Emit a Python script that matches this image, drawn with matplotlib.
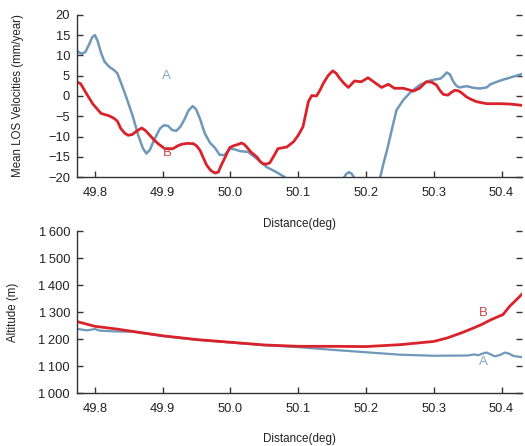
import matplotlib
matplotlib.use("Agg")
import matplotlib.pyplot as plt

plt.rcParams['font.family'] = ['Liberation Sans', 'DejaVu Sans']

# --- Mean LOS velocities (mm/year) along the profile ---
vel_a_dist = [49.773, 49.777, 49.781, 49.786, 49.791, 49.796, 49.800, 49.804, 49.809,
              49.814, 49.821, 49.828, 49.833, 49.839, 49.846, 49.856, 49.864, 49.871,
              49.876, 49.881, 49.888, 49.896, 49.902, 49.908, 49.914, 49.920, 49.926,
              49.932, 49.938, 49.944, 49.949, 49.955, 49.962, 49.970, 49.977, 49.984,
              49.991, 49.999, 50.007, 50.014, 50.026, 50.039, 50.053, 50.068,
              50.080, 50.095, 50.120, 50.150, 50.166, 50.171, 50.175, 50.179, 50.184,
              50.200, 50.221, 50.226, 50.231, 50.238, 50.245, 50.255, 50.265, 50.279,
              50.292, 50.303, 50.310, 50.315, 50.319, 50.324, 50.329, 50.334, 50.339,
              50.344, 50.349, 50.359, 50.368, 50.378, 50.384, 50.390, 50.400, 50.412,
              50.430]
vel_a = [11.2, 10.7, 10.4, 10.9, 12.6, 14.5, 15.0, 13.5, 10.6,
         8.5, 7.2, 6.4, 5.6, 3.0, -0.2, -5.1, -9.8, -13.0,
         -14.2, -13.3, -10.6, -8.0, -7.2, -7.4, -8.4, -8.6, -7.6,
         -5.8, -3.6, -2.5, -3.2, -5.6, -9.2, -11.6, -12.8, -14.5,
         -14.6, -13.0, -13.2, -13.6, -13.8, -15.5, -17.5, -18.8,
         -20.0, -23.0, -27.0, -24.0, -20.5, -19.2, -18.8, -19.2, -20.5,
         -25.0, -20.0, -16.5, -13.4, -8.4, -3.5, -1.0, 0.8, 2.7,
         3.7, 4.1, 4.3, 5.0, 5.8, 5.3, 3.5, 2.4, 2.1,
         2.3, 2.4, 2.0, 1.85, 2.1, 2.9, 3.3, 3.9, 4.5,
         5.4]

vel_b_dist = [49.773, 49.779, 49.787, 49.797, 49.809, 49.821, 49.828, 49.833, 49.838,
              49.844, 49.849, 49.855, 49.862, 49.869, 49.875, 49.881, 49.887, 49.893,
              49.903, 49.915, 49.922, 49.928, 49.936, 49.945, 49.950, 49.955, 49.960,
              49.965, 49.971, 49.977, 49.982, 49.986, 49.991, 49.999, 50.006, 50.012,
              50.016, 50.020, 50.024, 50.030, 50.039, 50.044, 50.048, 50.053, 50.058,
              50.064, 50.070, 50.076, 50.083, 50.093, 50.100, 50.107, 50.115, 50.120,
              50.127, 50.132, 50.137, 50.144, 50.151, 50.156, 50.161, 50.167, 50.174,
              50.178, 50.183, 50.193, 50.203, 50.213, 50.223, 50.233, 50.242, 50.255,
              50.270, 50.279, 50.289, 50.297, 50.304, 50.309, 50.314, 50.321, 50.326,
              50.331, 50.336, 50.341, 50.348, 50.356, 50.363, 50.378, 50.398,
              50.413, 50.430]
vel_b = [3.5, 3.0, 0.7, -2.0, -4.3, -4.9, -5.5, -6.2, -8.0,
         -9.2, -9.7, -9.5, -8.6, -7.9, -8.6, -9.7, -10.8, -11.75,
         -13.0, -13.0, -12.3, -11.9, -11.7, -11.75, -12.3, -13.4, -15.3,
         -17.1, -18.4, -19.0, -18.8, -17.2, -15.5, -12.7, -12.2, -11.9,
         -11.6, -11.9, -12.6, -13.8, -15.05, -16.2, -16.7, -16.8, -16.5,
         -14.8, -13.0, -12.8, -12.6, -11.3, -9.7, -7.6, -1.4, 0.1,
         0.0, 1.4, 3.1, 5.0, 6.2, 5.6, 4.4, 3.2, 2.1,
         2.8, 3.7, 3.5, 4.5, 3.3, 2.1, 2.9, 1.9, 1.9,
         1.2, 1.9, 3.5, 3.4, 2.7, 1.4, 0.4, 0.2, 0.9,
         1.4, 1.3, 0.8, -0.2, -0.9, -1.4, -1.9, -1.9,
         -2.0, -2.3]

# --- Terrain altitude (m) along the profile ---
alt_a_dist = [49.773, 49.788, 49.800, 49.807, 49.830, 49.856, 49.900, 49.950, 50.000,
              50.050, 50.100, 50.150, 50.200, 50.250, 50.300, 50.350, 50.360, 50.366,
              50.372, 50.378, 50.384, 50.390, 50.398, 50.405, 50.411, 50.418, 50.430]
alt_a = [1238, 1232, 1237, 1231, 1228, 1227, 1211, 1197, 1187,
         1177, 1170, 1160, 1151, 1142, 1138, 1139, 1143, 1140,
         1146, 1150, 1143, 1136, 1141, 1150, 1146, 1137, 1133]

alt_b_dist = [49.773, 49.800, 49.832, 49.856, 49.900, 49.950, 50.000, 50.050, 50.100,
              50.150, 50.200, 50.250, 50.275, 50.300, 50.320, 50.340, 50.355, 50.370,
              50.385, 50.395, 50.402, 50.412, 50.427, 50.434]
alt_b = [1265, 1247, 1237, 1228, 1212, 1198, 1188, 1178, 1173,
         1173, 1172, 1179, 1185, 1191, 1204, 1222, 1237, 1253,
         1272, 1283, 1290, 1321, 1358, 1376]

x_ticks = [49.8, 49.9, 50.0, 50.1, 50.2, 50.3, 50.4]
vel_ticks = [-20, -15, -10, -5, 0, 5, 10, 15, 20]
alt_ticks = [1000, 1100, 1200, 1300, 1400, 1500, 1600]
alt_tick_labels = ["1\u2009000", "1\u2009100", "1\u2009200", "1\u2009300",
                   "1\u2009400", "1\u2009500", "1\u2009600"]

BLUE = "#6f98ba"
RED = "#d9222a"
BLUE_TXT = "#86a6c6"
RED_TXT = "#c8484a"
AXC = "#333333"

fig = plt.figure(figsize=(5.25, 4.46), dpi=100)
ax1 = fig.add_axes([0.1467, 0.603, 0.847, 0.3636])
ax2 = fig.add_axes([0.1467, 0.1188, 0.847, 0.3632])


def style(ax):
    for s in ("top", "right"):
        ax.spines[s].set_visible(False)
    for s in ("left", "bottom"):
        ax.spines[s].set_color(AXC)
        ax.spines[s].set_linewidth(1.0)
    ax.tick_params(axis="both", direction="in", length=4, width=1.0,
                   color=AXC, labelsize=9.3, labelcolor="#222222")
    ax.tick_params(axis="y", right=True, pad=5)
    ax.tick_params(axis="x", pad=7)
    ax.set_xlim(49.7735, 50.4298)
    ax.set_xticks(x_ticks)
    ax.set_xticklabels([f"{t:.1f}" for t in x_ticks])


# Velocity profiles
ax1.plot(vel_a_dist, vel_a, color=BLUE, lw=1.8, solid_joinstyle="round")
ax1.plot(vel_b_dist, vel_b, color=RED, lw=2.0, solid_joinstyle="round")
ax1.set_ylim(-20, 20)
style(ax1)
ax1.set_yticks(vel_ticks)
ax1.set_ylabel("Mean LOS Velocities (mm/year)", fontsize=8.3, color="#222222", labelpad=17)
ax1.set_xlabel("Distance(deg)", fontsize=8.4, color="#222222", labelpad=14)
ax1.text(49.906, 4.9, "A", color=BLUE_TXT, fontsize=9.5, ha="center", va="center")
ax1.text(49.907, -14.0, "B", color=RED_TXT, fontsize=9.5, ha="center", va="center")

# Altitude profiles
ax2.plot(alt_a_dist, alt_a, color=BLUE, lw=1.6, solid_joinstyle="round")
ax2.plot(alt_b_dist, alt_b, color=RED, lw=2.0, solid_joinstyle="round")
ax2.set_ylim(1000, 1600)
style(ax2)
ax2.set_yticks(alt_ticks)
ax2.set_yticklabels(alt_tick_labels)
ax2.set_ylabel("Altitude (m)", fontsize=8.3, color="#222222", labelpad=14)
ax2.set_xlabel("Distance(deg)", fontsize=8.4, color="#222222", labelpad=13)
ax2.text(50.373, 1296, "B", color=RED_TXT, fontsize=9.5, ha="center", va="center")
ax2.text(50.373, 1114, "A", color=BLUE_TXT, fontsize=9.5, ha="center", va="center")

fig.savefig("out.png", dpi=100)
